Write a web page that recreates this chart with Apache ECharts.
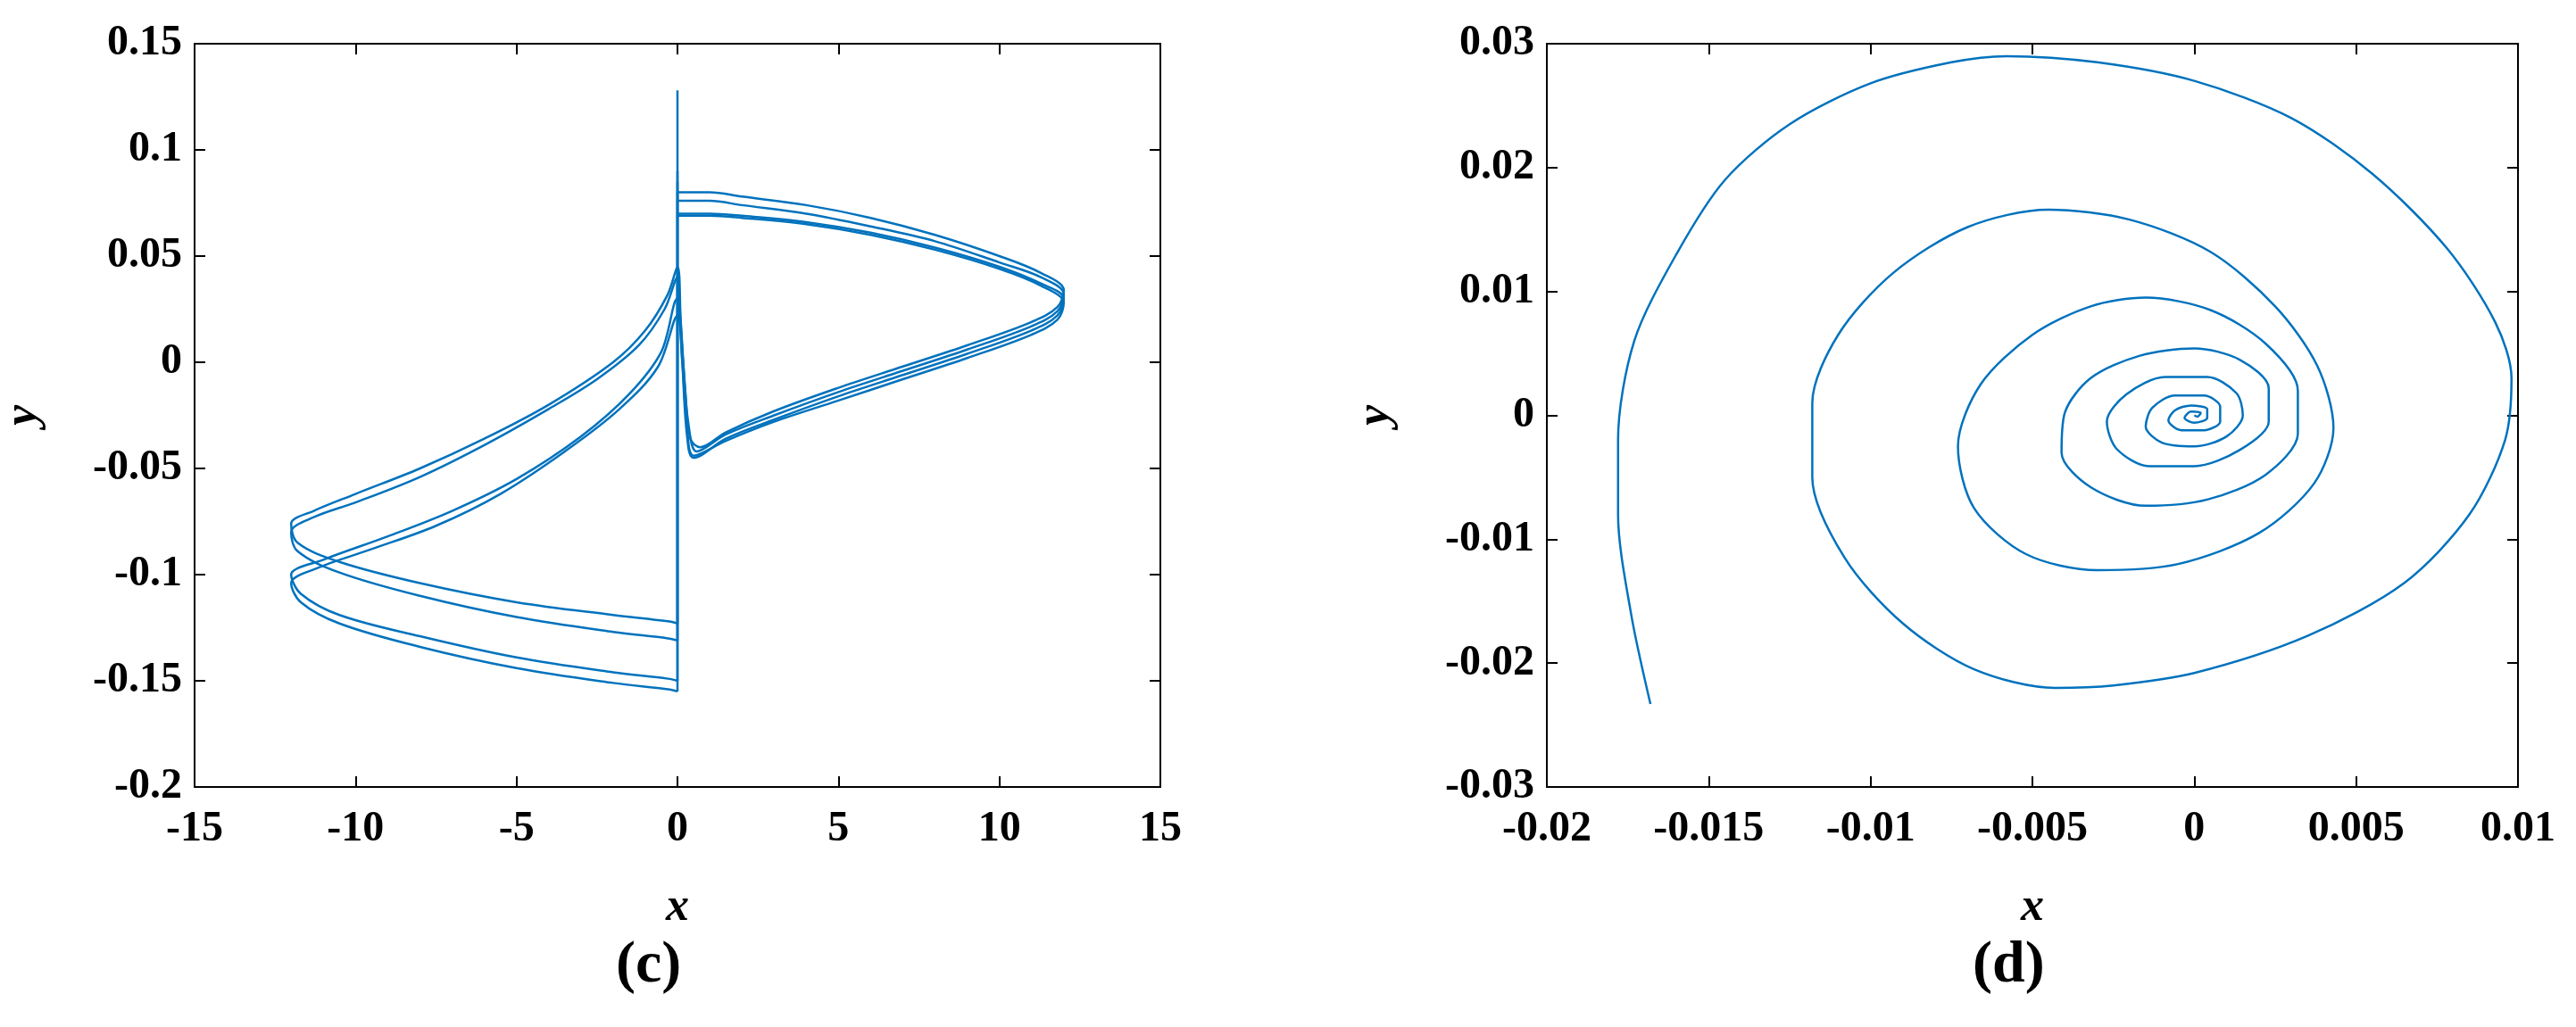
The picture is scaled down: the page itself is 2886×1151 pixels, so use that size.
<!DOCTYPE html>
<html>
<head>
<meta charset="utf-8">
<script src="https://cdn.jsdelivr.net/npm/echarts@6/dist/echarts.min.js"></script>
<style>html,body{margin:0;padding:0;background:#fff}#c{width:2886px;height:1151px}</style>
</head>
<body>
<div id="c"></div>
<script>
const lineColor = '#0072BD';
const xTicksC = [-15, 15, 5];
const yTicksC = [-0.2, 0.15, 0.05];
const xTicksD = [-0.02, 0.01, 0.005];
const yTicksD = [-0.03, 0.03, 0.01];

// panel (c): four passes of the attractor
const loopC1 = [[0,-0.123],[0,0.128],[0,0.08],[0.3,0.08],[1,0.08],[2,0.078],[4,0.074],[6,0.068],[8,0.06],[10,0.05],[11.3,0.042],[12,0.034],[11.8,0.026],[11,0.019],[9,0.008],[7,-0.002],[5,-0.012],[3,-0.023],[1.5,-0.033],[0.7,-0.04],[0.4,-0.036],[0.25,-0.015],[0.1,0.02],[0,0.045],[-0.3,0.032],[-1,0.015],[-2,0.0],[-4,-0.02],[-6,-0.036],[-8,-0.05],[-10,-0.062],[-11.3,-0.07],[-12,-0.076],[-11.8,-0.085],[-10.5,-0.094],[-8,-0.104],[-5,-0.113],[-2,-0.119],[-0.3,-0.122],[0,-0.123]];
const loopC2 = [[0,-0.131],[0,0.09],[0,0.076],[0.3,0.076],[1,0.076],[2,0.074],[4,0.07],[6,0.064],[8,0.057],[10,0.047],[11.3,0.04],[12,0.032],[11.8,0.024],[11,0.017],[9,0.006],[7,-0.004],[5,-0.014],[3,-0.025],[1.5,-0.034],[0.6,-0.042],[0.35,-0.03],[0.2,-0.005],[0.05,0.03],[0,0.04],[-0.4,0.025],[-1.2,0.008],[-2.5,-0.008],[-4,-0.022],[-6,-0.039],[-8,-0.054],[-10,-0.066],[-11.3,-0.073],[-12,-0.08],[-11.8,-0.089],[-10.5,-0.099],[-8,-0.11],[-5,-0.12],[-2,-0.127],[-0.3,-0.13],[0,-0.131]];
const loopC3 = [[0,-0.15],[0,0.085],[0,0.07],[0.3,0.07],[1,0.07],[2,0.069],[4,0.066],[6,0.061],[8,0.054],[10,0.045],[11.3,0.037],[12,0.03],[11.8,0.022],[11,0.015],[9,0.004],[7,-0.006],[5,-0.016],[3,-0.027],[1.5,-0.036],[0.5,-0.045],[0.3,-0.035],[0.15,0.0],[0.05,0.025],[0,0.03],[-0.5,0.005],[-1.5,-0.015],[-3,-0.035],[-5,-0.055],[-7,-0.07],[-9,-0.082],[-11,-0.093],[-12,-0.1],[-11.7,-0.109],[-10.5,-0.119],[-8,-0.129],[-5,-0.139],[-2,-0.146],[-0.3,-0.149],[0,-0.15]];
const loopC4 = [[0,-0.155],[0,0.08],[0,0.069],[0.3,0.069],[1,0.069],[2,0.068],[4,0.065],[6,0.06],[8,0.053],[10,0.044],[11.3,0.036],[12,0.028],[11.8,0.02],[11,0.013],[9,0.002],[7,-0.008],[5,-0.018],[3,-0.028],[1.5,-0.037],[0.5,-0.044],[0.3,-0.03],[0.15,0.0],[0,0.022],[-0.6,-0.002],[-1.8,-0.022],[-3.5,-0.042],[-5.5,-0.062],[-7.5,-0.077],[-9.5,-0.088],[-11.2,-0.097],[-12,-0.104],[-11.7,-0.113],[-10.5,-0.123],[-8,-0.134],[-5,-0.144],[-2,-0.151],[-0.3,-0.154],[0,-0.155]];

// panel (d): spiral into the origin
const spiralD = [[-0.0168,-0.0233],[-0.0174,-0.016],[-0.0178,-0.008],[-0.0178,-0.002],[-0.0173,0.006],[-0.016,0.013],[-0.0145,0.019],[-0.0125,0.0235],[-0.01,0.0268],[-0.0075,0.0285],[-0.0058,0.029],[-0.003,0.0285],[0,0.027],[0.003,0.024],[0.0055,0.0195],[0.0078,0.0135],[0.0093,0.0075],[0.0098,0.003],[0.0096,-0.002],[0.0085,-0.008],[0.0065,-0.0135],[0.0035,-0.0178],[0,-0.0208],[-0.0025,-0.0218],[-0.0043,-0.022],[-0.0068,-0.0205],[-0.009,-0.0168],[-0.0108,-0.0115],[-0.0118,-0.005],[-0.0118,0.001],[-0.011,0.0065],[-0.0093,0.0115],[-0.007,0.0152],[-0.0045,0.0166],[-0.002,0.0158],[0.0005,0.0132],[0.0025,0.0088],[0.0038,0.004],[0.0043,-0.001],[0.0037,-0.0055],[0.002,-0.0095],[-0.0005,-0.012],[-0.003,-0.0125],[-0.0052,-0.0112],[-0.0068,-0.0075],[-0.0073,-0.0025],[-0.0066,0.0025],[-0.005,0.0065],[-0.0032,0.0088],[-0.0015,0.0095],[0.0005,0.0085],[0.0022,0.0058],[0.0032,0.002],[0.0032,-0.0015],[0.0022,-0.0048],[0.0004,-0.0068],[-0.0015,-0.0073],[-0.0032,-0.0058],[-0.0041,-0.003],[-0.004,0.0002],[-0.0032,0.003],[-0.0017,0.0048],[0,0.0054],[0.0014,0.0045],[0.0023,0.0022],[0.0023,-0.0005],[0.0014,-0.0028],[0,-0.0041],[-0.0014,-0.0041],[-0.0024,-0.0027],[-0.0027,-0.0005],[-0.0021,0.0017],[-0.0009,0.0031],[0.0004,0.0031],[0.0013,0.0018],[0.0015,0],[0.001,-0.0017],[0,-0.0025],[-0.001,-0.0022],[-0.0015,-0.0009],[-0.0013,0.0006],[-0.0006,0.0016],[0.0003,0.0016],[0.0008,0.0007],[0.0008,-0.0005],[0.0003,-0.0012],[-0.0004,-0.0012],[-0.0008,-0.0004],[-0.0006,0.0004],[-0.0001,0.0008],[0.0004,0.0005],[0.0004,-0.0002],[0,-0.0006],[-0.0003,-0.0002],[-0.0001,0.0003],[0.0002,0.0002],[0.0001,-0.0001],[0,0]];

const font = 'Liberation Serif';
const tickStyle = { fontFamily: font, fontWeight: 'bold', fontSize: 48, color: '#000' };
const frameLine = { onZero: false, lineStyle: { color: '#000', width: 2 } };
const frameTick = { inside: true, length: 12, lineStyle: { color: '#000', width: 2 } };
const nameStyle = { fontFamily: font, fontStyle: 'italic', fontWeight: 'bold', fontSize: 52, color: '#000' };
function xAx(idx, t, name) {
  return [{
    gridIndex: idx, type: 'value', min: t[0], max: t[1], interval: t[2],
    name: name, nameLocation: 'middle', nameGap: 110, nameTextStyle: nameStyle,
    axisLine: frameLine, axisTick: frameTick,
    axisLabel: Object.assign({ margin: 24 }, tickStyle), splitLine: { show: false }
  }, {
    gridIndex: idx, type: 'value', position: 'top', min: t[0], max: t[1], interval: t[2],
    axisLine: frameLine, axisTick: frameTick,
    axisLabel: { show: false }, splitLine: { show: false }
  }];
}
function yAx(idx, t, name, gap) {
  return [{
    gridIndex: idx, type: 'value', min: t[0], max: t[1], interval: t[2],
    name: name, nameLocation: 'middle', nameGap: gap, nameRotate: 90, nameTextStyle: nameStyle,
    axisLine: frameLine, axisTick: frameTick,
    axisLabel: Object.assign({ margin: 14 }, tickStyle), splitLine: { show: false }
  }, {
    gridIndex: idx, type: 'value', position: 'right', min: t[0], max: t[1], interval: t[2],
    axisLine: frameLine, axisTick: frameTick,
    axisLabel: { show: false }, splitLine: { show: false }
  }];
}
function path(data, xi, yi, sm) {
  return { type: 'line', xAxisIndex: xi, yAxisIndex: yi, data: data, smooth: sm,
    showSymbol: false, symbol: 'none', lineStyle: { color: lineColor, width: 2.5 } };
}

const chart = echarts.init(document.getElementById('c'));
chart.setOption({
  animation: false,
  backgroundColor: '#fff',
  grid: [
    { left: 213, right: 1586, top: 49, bottom: 269 },
    { left: 1733, right: 65, top: 49, bottom: 269 }
  ],
  xAxis: xAx(0, xTicksC, 'x').concat(xAx(1, xTicksD, 'x')),
  yAxis: yAx(0, yTicksC, 'y', 165).concat(yAx(1, yTicksD, 'y', 165)),
  series: [
    path(loopC1, 0, 0, 0.35), path(loopC2, 0, 0, 0.35), path(loopC3, 0, 0, 0.35), path(loopC4, 0, 0, 0.35),
    path(spiralD, 2, 2, 0.3)
  ],
  graphic: [
    { type: 'text', left: 690, top: 1050, style: { text: '(c)', font: 'bold 66px "Liberation Serif"', fill: '#000' } },
    { type: 'text', left: 2210, top: 1050, style: { text: '(d)', font: 'bold 66px "Liberation Serif"', fill: '#000' } }
  ]
});
</script>
</body>
</html>
